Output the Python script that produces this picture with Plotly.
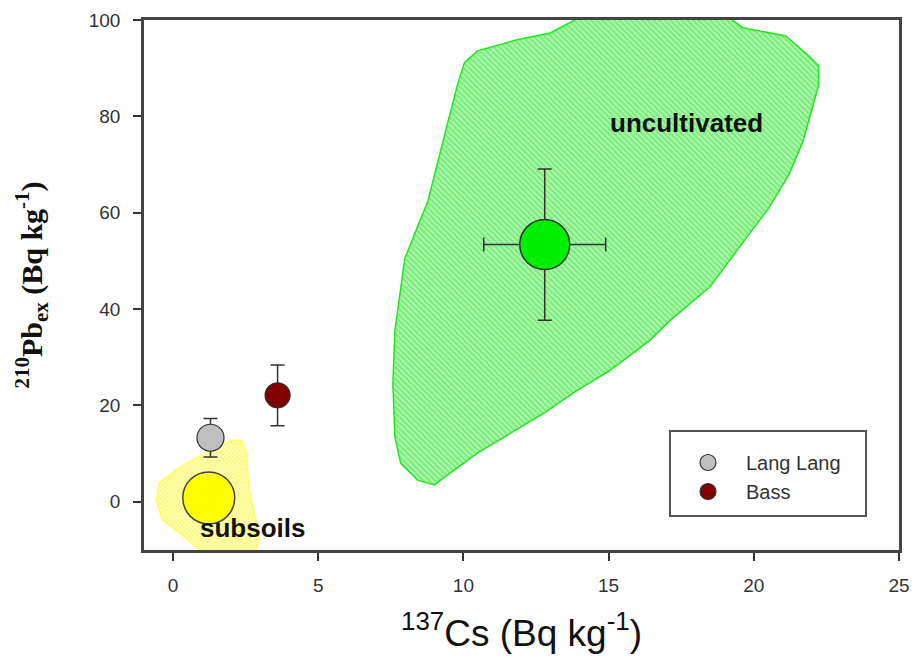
import plotly.graph_objects as go

# Sample means and errors
lang_x = [1.29]; lang_y = [13.3]; lang_err = [4.0]
bass_x = [3.6]; bass_y = [22.1]; bass_err = [6.3]
uncult_x = [12.8]; uncult_y = [53.4]; uncult_xerr = [2.1]; uncult_yerr = [15.7]
subsoil_x = [1.23]; subsoil_y = [0.8]

# Envelope of uncultivated samples
uncult_env_x = [10.03, 10.48, 11.85, 12.98, 14.0, 19.14, 19.62, 21.1, 21.88, 22.23, 22.23, 22.0,
                21.68, 21.2, 20.5, 19.83, 18.5, 17.09, 16.4, 15.03, 13.9, 12.77, 11.61, 10.48,
                9.55, 9.0, 8.42, 7.84, 7.64, 7.57, 7.64, 7.84, 7.98, 8.08, 8.77, 9.35, 9.79, 10.03]
uncult_env_y = [91.1, 93.6, 95.9, 97.3, 100.5, 100.5, 98.4, 96.7, 92.6, 90.5, 86.4, 81.4,
                74.6, 67.8, 60.8, 55.5, 44.7, 37.5, 33.4, 27.2, 23.1, 18.4, 14.2, 10.1,
                6.0, 3.5, 4.5, 8.0, 13.4, 24.5, 35.5, 43.7, 50.5, 52.0, 62.3, 76.1, 86.4, 91.1]

# Envelope of subsoil samples
sub_env_x = [2.36, 2.53, 2.6, 2.84, 2.95, 2.84, 2.02, 1.23, 0.79, 0.21, -0.38, -0.58, -0.48,
             0.10, 0.65, 1.34, 2.02, 2.36]
sub_env_y = [12.8, 10.1, 3.1, -3.7, -7.8, -10.5, -12.6, -12.0, -9.3, -6.4, -3.7, 0.4, 3.9,
             6.6, 8.7, 10.7, 12.8, 12.8]

x_ticks = [0, 5, 10, 15, 20, 25]
y_ticks = [0, 20, 40, 60, 80, 100]

# page layout helpers (plot area in page pixels; page has an 8px body margin)
PL, PR, PT, PB = 144, 899, 20, 550


def px(xp):
    return (xp - PL) / (PR - PL)


def py(yp):
    return (PB - yp) / (PB - PT)


fig = go.Figure()

fig.add_trace(go.Scatter(
    x=uncult_env_x, y=uncult_env_y, mode="lines", fill="toself",
    line=dict(color="#22e622", width=1.5),
    fillcolor="rgba(0,0,0,0)",
    fillpattern=dict(shape="\\", fgcolor="#00e000", bgcolor="#ffffff", size=4, solidity=0.85),
    showlegend=False, hoverinfo="skip"))

fig.add_trace(go.Scatter(
    x=sub_env_x, y=sub_env_y, mode="lines", fill="toself",
    line=dict(color="#ffff60", width=1.5),
    fillcolor="rgba(0,0,0,0)",
    fillpattern=dict(shape="x", fgcolor="#f6f230", bgcolor="#ffffc0", size=3, solidity=0.5),
    showlegend=False, hoverinfo="skip"))

fig.add_trace(go.Scatter(
    x=uncult_x, y=uncult_y, mode="markers",
    marker=dict(size=50, color="#00ee00", line=dict(color="#333333", width=1.5)),
    error_x=dict(type="data", array=uncult_xerr, color="#333333", thickness=1.5, width=7),
    error_y=dict(type="data", array=uncult_yerr, color="#333333", thickness=1.5, width=7),
    showlegend=False))

fig.add_trace(go.Scatter(
    x=subsoil_x, y=subsoil_y, mode="markers",
    marker=dict(size=52, color="#ffff00", line=dict(color="#444444", width=1.5)),
    showlegend=False))

fig.add_trace(go.Scatter(
    x=lang_x, y=lang_y, mode="markers", name="Lang Lang", legendgroup="a",
    marker=dict(size=27, color="#c0c0c0", line=dict(color="#333333", width=1.2)),
    error_y=dict(type="data", array=lang_err, color="#333333", thickness=1.5, width=7)))

fig.add_trace(go.Scatter(
    x=bass_x, y=bass_y, mode="markers", name="Bass", legendgroup="b",
    marker=dict(size=25, color="#800000", line=dict(color="#333333", width=1.2)),
    error_y=dict(type="data", array=bass_err, color="#333333", thickness=1.5, width=7)))

fig.add_annotation(x=17.69, y=78.6, text="<b>uncultivated</b>", showarrow=False,
                   font=dict(family="Liberation Sans, Arial", size=26, color="#111111"))
fig.add_annotation(x=2.72, y=-5.4, text="<b>subsoils</b>", showarrow=False,
                   font=dict(family="Liberation Sans, Arial", size=26, color="#111111"))

# Legend frame
fig.add_shape(type="rect", xref="paper", yref="paper",
              x0=px(670), x1=px(866), y0=py(516), y1=py(431),
              line=dict(color="#555555", width=2), fillcolor="white", layer="above")

axis_common = dict(showgrid=False, zeroline=False, showline=True, linecolor="#444444",
                   linewidth=2.5, mirror=True, ticks="outside", ticklen=8, tickwidth=1.5,
                   tickcolor="#333333", automargin=False, ticklabeloverflow="allow",
                   tickfont=dict(family="Liberation Sans, Arial", size=19, color="#333333"))

fig.update_layout(
    width=901, height=650,
    margin=dict(l=PL - 8, r=901 - (PR - 8), t=PT - 8, b=650 - (PB - 8)),
    paper_bgcolor="white", plot_bgcolor="white",
    xaxis=dict(range=[-1, 25], tickvals=x_ticks, ticklabelstandoff=8,
               title=dict(text="<sup>137</sup>Cs (Bq kg<sup>-1</sup>)", standoff=26,
                          font=dict(family="Liberation Sans, Arial", size=37, color="#111111")),
               **axis_common),
    yaxis=dict(range=[-10, 100], tickvals=y_ticks, ticklabelstandoff=9,
               title=dict(text="<b><sup>210</sup>Pb<sub>ex</sub> (Bq kg<sup>-1</sup>)</b>", standoff=38,
                          font=dict(family="Liberation Serif, Times New Roman", size=30, color="#111111")),
               **axis_common),
    legend=dict(x=px(670), y=py(443), xanchor="left", yanchor="top",
                borderwidth=0, bgcolor="rgba(0,0,0,0)",
                font=dict(family="Liberation Sans, Arial", size=20, color="#333333"),
                itemwidth=66, tracegroupgap=0),
)

fig.write_html("out.html")
